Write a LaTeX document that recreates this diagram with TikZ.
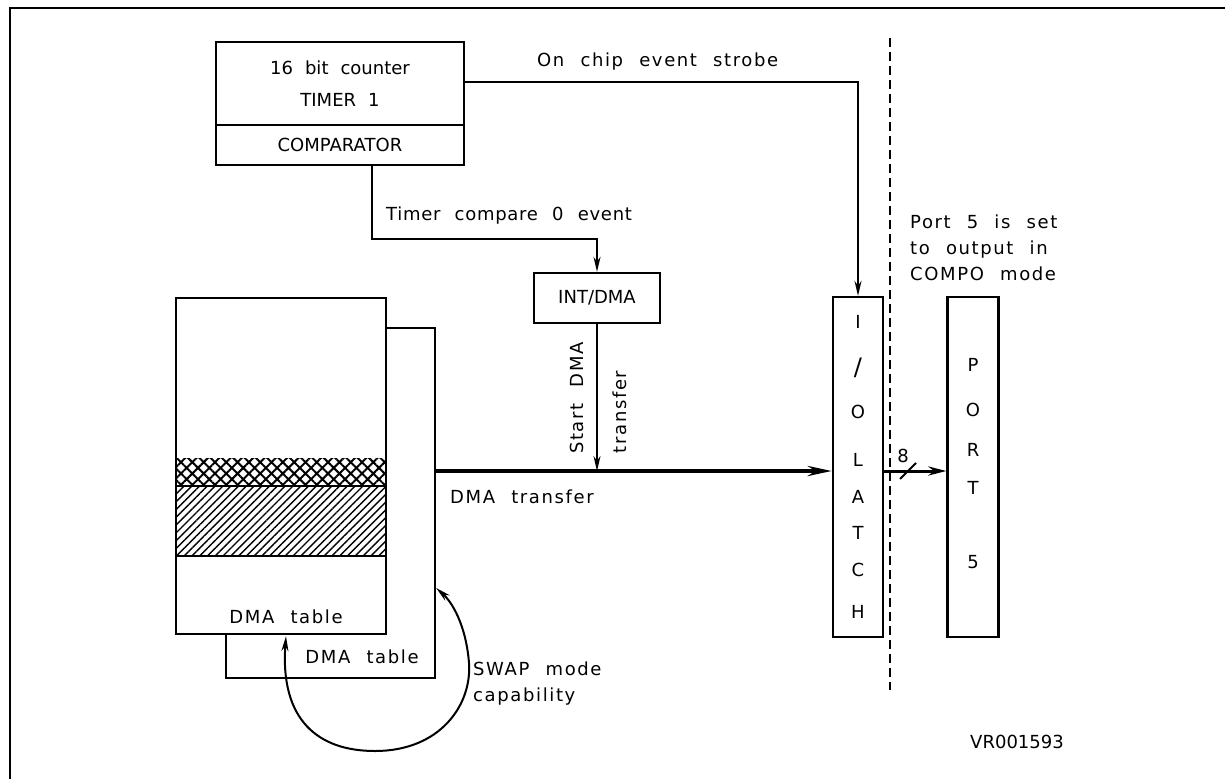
\documentclass[tikz,border=0pt]{standalone}
\usepackage{fontspec}
\setmainfont[WordSpace=2.1]{DejaVu Sans}
\newfontfamily\widefont[WordSpace=2.2,LetterSpace=9]{DejaVu Sans}
\newfontfamily\midfont[WordSpace=2.2,LetterSpace=4]{DejaVu Sans}
\usetikzlibrary{arrows.meta,patterns.meta,calc}
\begin{document}
\begin{tikzpicture}[x=1pt,y=-1pt,
  box/.style={draw,line width=2.3pt,fill=white,inner sep=0pt},
  lbl/.style={font=\fontsize{18}{20}\selectfont,inner sep=0pt},
  wlbl/.style={font=\widefont\fontsize{18}{26}\selectfont,inner sep=0pt},
  mlbl/.style={font=\midfont\fontsize{18}{26}\selectfont,inner sep=0pt},
  letter/.style={font=\fontsize{18}{20}\selectfont,inner sep=0pt},
  arr/.style={line width=2pt,-{Stealth[length=15pt,width=7pt]}},
  bus/.style={line width=3.8pt,-{Stealth[length=24pt,width=10pt]}},
  swap/.style={line width=2pt,{Stealth[length=15pt,width=7pt]}-{Stealth[length=15pt,width=7pt]}},
  frame/.style={line width=2.8pt}]
\useasboundingbox (0,0) rectangle (1225,779);
% frame
\coordinate (fa) at (1225,8);
\coordinate (fb) at (10,8);
\coordinate (fc) at (10,779);
\draw[frame] (fa) -- (fb) -- (fc);

% timer block
\node[box,minimum width=248pt,minimum height=123pt] (timer) at (340,103.5) {};
\draw[line width=2.3pt] (timer.west |- 0,125) -- (timer.east |- 0,125);
\node[lbl] (t1) at (340,68) {16 bit counter};
\node[lbl] (t2) at (340,100) {TIMER 1};
\node[lbl] (t3) at (340,145) {COMPARATOR};

% INT/DMA
\node[box,lbl,minimum width=126pt,minimum height=50pt] (intdma) at (597,298) {INT/DMA};

% latch and port
\node[box,minimum width=50pt,minimum height=340pt] (latch) at (858,467) {};
\node[box,minimum width=51pt,minimum height=340pt] (port) at (973,467) {};
\foreach \c/\y [count=\i] in {I/322,O/412,L/460,A/497,T/533,C/570,H/612}
  \node[letter] (la\i) at (858,\y) {\c};
\node[font=\fontsize{24}{26}\selectfont,inner sep=0pt] (lasl) at (858,368) {/};
\foreach \c/\y [count=\i] in {P/365,O/410,R/450,T/488,5/562}
  \node[letter] (po\i) at (973,\y) {\c};

% dashed separator
\coordinate (da) at (890,38);
\coordinate (db) at (890,690);
\draw[line width=1.8pt,dash pattern=on 9pt off 5pt] (da) -- (db);

% DMA tables
\node[box,minimum width=209pt,minimum height=350pt] (backtab) at (330.5,503) {};
\node[box,minimum width=210pt,minimum height=336pt] (fronttab) at (281,466) {};
\fill[pattern={Hatch[angle=45,distance=8pt,line width=2pt]}] ($(fronttab.west |- 0,458)+(1,0)$) rectangle ($(fronttab.east |- 0,486)+(-1,0)$);
\fill[pattern={Lines[angle=45,distance=5.5pt,line width=1.4pt]}] ($(fronttab.west |- 0,486)+(1,0)$) rectangle ($(fronttab.east |- 0,556)+(-1,0)$);
\draw[line width=1.2pt] (fronttab.west |- 0,486) -- (fronttab.east |- 0,486);
\draw[line width=1.6pt] (fronttab.west |- 0,556) -- (fronttab.east |- 0,556);
\node[wlbl] (ft) at (286,617) {DMA table};
\node[wlbl] (bt) at (362,657) {DMA table};

% connectors
\draw[arr] ($(timer.north east)!0.325!(timer.south east)$) -| (latch.north);
\node[wlbl,anchor=west] (oce) at (537,62) {On chip event strobe};

\coordinate (cs) at ($(timer.south west)!0.629!(timer.south east)$);
\draw[arr] (cs) |- ($(intdma.north)+(0,-33)$) -- (intdma.north);
\node[mlbl,anchor=west] (tce) at (386,216) {Timer compare 0 event};

\coordinate (ds) at (backtab.east |- 0,471);
\draw[bus] (ds) -- (latch.west |- ds);
\draw[arr] (intdma.south) -- (intdma.south |- ds);
\node[wlbl,rotate=90] (sd1) at (577,398) {Start DMA};
\node[wlbl,rotate=90] (sd2) at (620,412) {transfer};
\node[wlbl,anchor=west] (dt) at (450,497) {DMA transfer};

\draw[line width=3pt,-{Stealth[length=18pt,width=9pt]}] (latch.east |- ds) -- (port.west |- ds);
\coordinate (sl1) at (900,479);
\coordinate (sl2) at (916,463);
\draw[line width=1.8pt] (sl1) -- (sl2);
\node[lbl] (eight) at (903,456) {8};

\node[wlbl,anchor=west,align=left] (p5) at (910,248) {Port 5 is set\\to output in\\COMPO mode};

% swap arc
\coordinate (swA) at ($(fronttab.south)+(5,1)$);
\coordinate (swB) at (backtab.east |- 0,588);
\draw[swap] (swA) .. controls (280,720) and (318,751) .. (375,751)
  .. controls (440,751) and (472,705) .. (469,663)
  .. controls (466,625) and (452,602) .. (swB);
\node[wlbl,anchor=west,align=left] (swt) at (473,684) {SWAP mode\\capability};

\node[lbl] (vr) at (1017,742) {VR001593};
\end{tikzpicture}
\end{document}
